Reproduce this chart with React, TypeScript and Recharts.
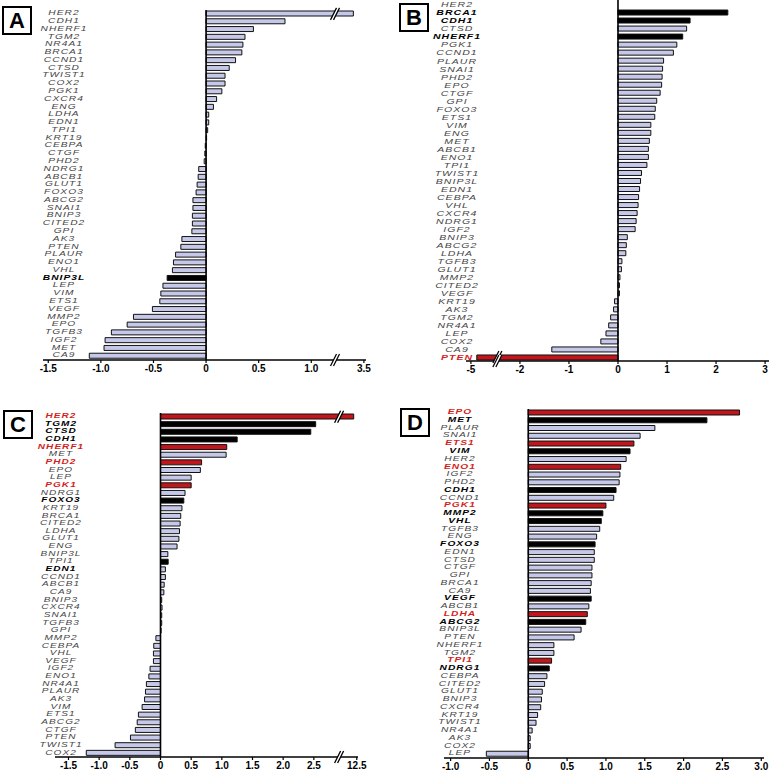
import { BarChart, Bar, XAxis, YAxis, ReferenceLine, Cell } from 'recharts'

// panel A
const genesA = ['HER2', 'CDH1', 'NHERF1', 'TGM2', 'NR4A1', 'BRCA1', 'CCND1', 'CTSD', 'TWIST1', 'COX2', 'PGK1', 'CXCR4', 'ENG', 'LDHA', 'EDN1', 'TPI1', 'KRT19', 'CEBPA', 'CTGF', 'PHD2', 'NDRG1', 'ABCB1', 'GLUT1', 'FOXO3', 'ABCG2', 'SNAI1', 'BNIP3', 'CITED2', 'GPI', 'AK3', 'PTEN', 'PLAUR', 'ENO1', 'VHL', 'BNIP3L', 'LEP', 'VIM', 'ETS1', 'VEGF', 'MMP2', 'EPO', 'TGFB3', 'IGF2', 'MET', 'CA9']
const valuesA = [3.4, 0.75, 0.45, 0.37, 0.35, 0.34, 0.28, 0.22, 0.18, 0.18, 0.15, 0.1, 0.07, 0.025, 0.025, 0.015, 0.005, -0.008, -0.012, -0.018, -0.07, -0.075, -0.085, -0.095, -0.125, -0.125, -0.13, -0.13, -0.135, -0.23, -0.24, -0.29, -0.31, -0.32, -0.37, -0.41, -0.43, -0.44, -0.51, -0.69, -0.75, -0.9, -0.96, -0.97, -1.11]
const boldA = ['BNIP3L']
const redA: string[] = []
const ticksA = [-1.5, -1, -0.5, 0, 0.5, 1, 1.5]
const tickLabelsA = ['-1.5', '-1.0', '-0.5', '0', '0.5', '1.0', '3.5']

// panel B
const genesB = ['HER2', 'BRCA1', 'CDH1', 'CTSD', 'NHERF1', 'PGK1', 'CCND1', 'PLAUR', 'SNAI1', 'PHD2', 'EPO', 'CTGF', 'GPI', 'FOXO3', 'ETS1', 'VIM', 'ENG', 'MET', 'ABCB1', 'ENO1', 'TPI1', 'TWIST1', 'BNIP3L', 'EDN1', 'CEBPA', 'VHL', 'CXCR4', 'NDRG1', 'IGF2', 'BNIP3', 'ABCG2', 'LDHA', 'TGFB3', 'GLUT1', 'MMP2', 'CITED2', 'VEGF', 'KRT19', 'AK3', 'TGM2', 'NR4A1', 'LEP', 'COX2', 'CA9', 'PTEN']
const valuesB = [0, 2.24, 1.47, 1.4, 1.32, 1.2, 1.13, 0.93, 0.91, 0.9, 0.89, 0.86, 0.79, 0.76, 0.75, 0.67, 0.67, 0.64, 0.62, 0.62, 0.59, 0.48, 0.46, 0.44, 0.42, 0.41, 0.39, 0.37, 0.35, 0.19, 0.17, 0.16, 0.08, 0.07, 0.04, 0.03, 0.03, -0.07, -0.09, -0.15, -0.19, -0.245, -0.35, -1.35, -4.88]
const boldB = ['BRCA1', 'CDH1', 'NHERF1']
const redB = ['PTEN']
const ticksB = [-3, -2, -1, 0, 1, 2, 3]
const tickLabelsB = ['-5', '-2', '-1', '0', '1', '2', '3']

// panel C
const genesC = ['HER2', 'TGM2', 'CTSD', 'CDH1', 'NHERF1', 'MET', 'PHD2', 'EPO', 'LEP', 'PGK1', 'NDRG1', 'FOXO3', 'KRT19', 'BRCA1', 'CITED2', 'LDHA', 'GLUT1', 'ENG', 'BNIP3L', 'TPI1', 'EDN1', 'CCND1', 'ABCB1', 'CA9', 'BNIP3', 'CXCR4', 'SNAI1', 'TGFB3', 'GPI', 'MMP2', 'CEBPA', 'VHL', 'VEGF', 'IGF2', 'ENO1', 'NR4A1', 'PLAUR', 'AK3', 'VIM', 'ETS1', 'ABCG2', 'CTGF', 'PTEN', 'TWIST1', 'COX2']
const valuesC = [12.45, 2.53, 2.45, 1.25, 1.08, 1.07, 0.67, 0.65, 0.5, 0.5, 0.4, 0.38, 0.35, 0.33, 0.32, 0.31, 0.3, 0.27, 0.12, 0.125, 0.08, 0.08, 0.06, 0.055, 0.02, 0.025, 0.02, 0.02, 0.01, -0.075, -0.11, -0.115, -0.115, -0.17, -0.19, -0.23, -0.245, -0.26, -0.3, -0.36, -0.38, -0.41, -0.49, -0.74, -1.21]
const boldC = ['TGM2', 'CTSD', 'CDH1', 'FOXO3', 'EDN1']
const darkBarsC = ['TGM2', 'CTSD', 'CDH1', 'FOXO3', 'TPI1']
const redC = ['HER2', 'NHERF1', 'PHD2', 'PGK1']
const ticksC = [-1.5, -1, -0.5, 0, 0.5, 1, 1.5, 2, 2.5, 3.2]
const tickLabelsC = ['-1.5', '-1.0', '-0.5', '0', '0.5', '1.0', '1.5', '2.0', '2.5', '12.5']

// panel D
const genesD = ['EPO', 'MET', 'PLAUR', 'SNAI1', 'ETS1', 'VIM', 'HER2', 'ENO1', 'IGF2', 'PHD2', 'CDH1', 'CCND1', 'PGK1', 'MMP2', 'VHL', 'TGFB3', 'ENG', 'FOXO3', 'EDN1', 'CTSD', 'CTGF', 'GPI', 'BRCA1', 'CA9', 'VEGF', 'ABCB1', 'LDHA', 'ABCG2', 'BNIP3L', 'PTEN', 'NHERF1', 'TGM2', 'TPI1', 'NDRG1', 'CEBPA', 'CITED2', 'GLUT1', 'BNIP3', 'CXCR4', 'KRT19', 'TWIST1', 'NR4A1', 'AK3', 'COX2', 'LEP']
const valuesD = [2.72, 2.3, 1.63, 1.44, 1.36, 1.31, 1.26, 1.19, 1.18, 1.17, 1.13, 1.1, 1.0, 0.96, 0.94, 0.92, 0.88, 0.86, 0.85, 0.85, 0.82, 0.82, 0.81, 0.8, 0.81, 0.78, 0.76, 0.74, 0.68, 0.59, 0.33, 0.33, 0.3, 0.27, 0.24, 0.21, 0.18, 0.17, 0.16, 0.12, 0.1, 0.05, 0.025, 0.025, -0.54]
const boldD = ['MET', 'VIM', 'CDH1', 'MMP2', 'VHL', 'FOXO3', 'VEGF', 'ABCG2', 'NDRG1']
const redD = ['EPO', 'ETS1', 'ENO1', 'PGK1', 'LDHA', 'TPI1']
const ticksD = [-1, -0.5, 0, 0.5, 1, 1.5, 2, 2.5, 3]
const tickLabelsD = ['-1.0', '-0.5', '0', '0.5', '1.0', '1.5', '2.0', '2.5', '3.0']

const LIGHT = '#c6c8ea'
const RED = '#c3161c'
const RED_TEXT = '#d41f22'
const X_AXIS_H = 20
const FONT = "'Liberation Sans', Arial, sans-serif"

interface AxisBreak {
  limit: number // values beyond this are pulled back by shift
  shift: number
  at: number // where the // mark sits (plotted value)
}

interface Panel {
  letter: string
  left: number
  top: number
  width: number
  height: number
  margin: { top: number; right: number; bottom: number; left: number }
  domain: [number, number]
  labelX: number
  labelDy: number
  box: { x: number; y: number }
  genes: string[]
  values: number[]
  bold: string[]
  red: string[]
  darkBars?: string[]
  ticks: number[]
  tickLabels: string[]
  brk?: AxisBreak
}

const panels: Panel[] = [
  {
    letter: 'A', left: 0, top: 0, width: 386, height: 380,
    margin: { top: 10, right: 20, bottom: 0, left: 43 },
    domain: [-1.55, 1.52], labelX: 64, labelDy: -1, box: { x: 2, y: 6 },
    genes: genesA, values: valuesA, bold: boldA, red: redA,
    ticks: ticksA, tickLabels: tickLabelsA,
    brk: { limit: 1.5, shift: 2, at: 1.23 },
  },
  {
    letter: 'B', left: 386, top: 0, width: 387, height: 381,
    margin: { top: 0, right: 4, bottom: 0, left: 80 },
    domain: [-3.1, 3.08], labelX: 71, labelDy: 1, box: { x: 399, y: 3 },
    genes: genesB, values: valuesB, bold: boldB, red: redB,
    ticks: ticksB, tickLabels: tickLabelsB,
    brk: { limit: -2.5, shift: -2, at: -2.45 },
  },
  {
    letter: 'C', left: 0, top: 400, width: 386, height: 377,
    margin: { top: 13, right: 28, bottom: 0, left: 55 },
    domain: [-1.72, 3.22], labelX: 61, labelDy: -1, box: { x: 3, y: 410 },
    genes: genesC, values: valuesC, bold: boldC, red: redC, darkBars: darkBarsC,
    ticks: ticksC, tickLabels: tickLabelsC,
    brk: { limit: 3, shift: 9.3, at: 2.92 },
  },
  {
    letter: 'D', left: 386, top: 400, width: 387, height: 378,
    margin: { top: 9, right: 9, bottom: 0, left: 58 },
    domain: [-1.085, 3.035], labelX: 74, labelDy: -1, box: { x: 400, y: 408 },
    genes: genesD, values: valuesD, bold: boldD, red: redD,
    ticks: ticksD, tickLabels: tickLabelsD,
  },
]

function toPlot(v: number, brk?: AxisBreak) {
  if (!brk) return v
  if (brk.limit > 0 && v > brk.limit) return v - brk.shift
  if (brk.limit < 0 && v < brk.limit) return v - brk.shift
  return v
}

function bandOf(p: Panel) {
  return (p.height - p.margin.top - p.margin.bottom - X_AXIS_H) / p.genes.length
}

function makeGeneTick(p: Panel) {
  // keep the glyph box inside one row so neighbouring names never collide
  const size = Math.floor((bandOf(p) / 1.14) * 10) / 10
  return (props: any) => {
    const { y, payload } = props
    const g: string = payload.value
    const isRed = p.red.includes(g)
    const isBold = isRed || p.bold.includes(g)
    return (
      <text
        transform={`translate(${p.labelX},${y + p.labelDy}) scale(1.5,1)`}
        textAnchor="middle"
        dominantBaseline="central"
        fontFamily={FONT}
        fontStyle="italic"
        fontWeight={isBold ? 700 : 400}
        fontSize={size}
        letterSpacing={0.7}
        fill={isRed ? RED_TEXT : isBold ? '#000' : '#454545'}
      >
        {g}
      </text>
    )
  }
}

function makeValueTick(p: Panel) {
  return (props: any) => {
    const { x, y, payload } = props
    const label = p.tickLabels[p.ticks.indexOf(payload.value)] ?? ''
    return (
      <text
        x={x}
        y={y + 1}
        textAnchor="middle"
        dominantBaseline="hanging"
        fontFamily={FONT}
        fontWeight={700}
        fontSize={10}
        fill="#000"
      >
        {label}
      </text>
    )
  }
}

function BreakMarks({ p }: { p: Panel }) {
  if (!p.brk) return null
  const plotW = p.width - p.margin.left - p.margin.right
  const plotH = p.height - p.margin.top - p.margin.bottom - X_AXIS_H
  const x = p.margin.left + ((p.brk.at - p.domain[0]) / (p.domain[1] - p.domain[0])) * plotW
  const idx = p.values.findIndex(v => toPlot(v, p.brk) !== v)
  const barY = p.margin.top + (idx + 0.5) * bandOf(p)
  const axisY = p.margin.top + plotH
  const mark = (cy: number, key: string) => (
    <g key={key}>
      <polygon points={`${x - 5},${cy + 6} ${x + 1},${cy - 6} ${x + 4},${cy - 6} ${x - 2},${cy + 6}`} fill="#fff" />
      <line x1={x - 5} y1={cy + 6} x2={x + 1} y2={cy - 6} stroke="#000" strokeWidth={1.3} />
      <line x1={x - 2} y1={cy + 6} x2={x + 4} y2={cy - 6} stroke="#000" strokeWidth={1.3} />
    </g>
  )
  return (
    <svg
      width={p.width}
      height={p.height}
      style={{ position: 'absolute', left: p.left, top: p.top, pointerEvents: 'none' }}
    >
      {mark(barY, 'bar')}
      {mark(axisY, 'axis')}
    </svg>
  )
}

function PanelChart({ p }: { p: Panel }) {
  const rows = p.genes.map((g, i) => ({ gene: g, value: toPlot(p.values[i], p.brk) }))
  const dark = p.darkBars ?? p.bold
  const margin = { ...p.margin, left: 0 }
  return (
    <>
      <div style={{ position: 'absolute', left: p.left, top: p.top }}>
        <BarChart width={p.width} height={p.height} data={rows} layout="vertical" margin={margin}>
          <XAxis
            type="number"
            domain={p.domain}
            allowDataOverflow
            ticks={p.ticks}
            interval={0}
            height={X_AXIS_H}
            axisLine={{ stroke: '#000', strokeWidth: 1.6 }}
            tickLine={{ stroke: '#000', strokeWidth: 1.2 }}
            tickSize={3}
            tickMargin={1}
            tick={makeValueTick(p)}
          />
          <YAxis
            type="category"
            dataKey="gene"
            width={p.margin.left}
            interval={0}
            axisLine={false}
            tickLine={false}
            tick={makeGeneTick(p)}
          />
          <Bar dataKey="value" barSize={5} stroke="#111" strokeWidth={1} isAnimationActive={false}>
            {rows.map(r => (
              <Cell
                key={r.gene}
                fill={p.red.includes(r.gene) ? RED : dark.includes(r.gene) ? '#000' : LIGHT}
              />
            ))}
          </Bar>
          <ReferenceLine x={0} stroke="#000" strokeWidth={1.6} />
        </BarChart>
      </div>
      <BreakMarks p={p} />
      <div
        style={{
          position: 'absolute',
          left: p.box.x,
          top: p.box.y,
          width: 26,
          height: 25,
          border: '2px solid #000',
          fontFamily: FONT,
          fontWeight: 700,
          fontSize: 22,
          lineHeight: '25px',
          textAlign: 'center',
          background: '#fff',
        }}
      >
        {p.letter}
      </div>
    </>
  )
}

export default function App() {
  return (
    <div style={{ position: 'absolute', left: 0, top: 0, width: 773, height: 774, background: '#fff' }}>
      {panels.map(p => (
        <PanelChart key={p.letter} p={p} />
      ))}
    </div>
  )
}
